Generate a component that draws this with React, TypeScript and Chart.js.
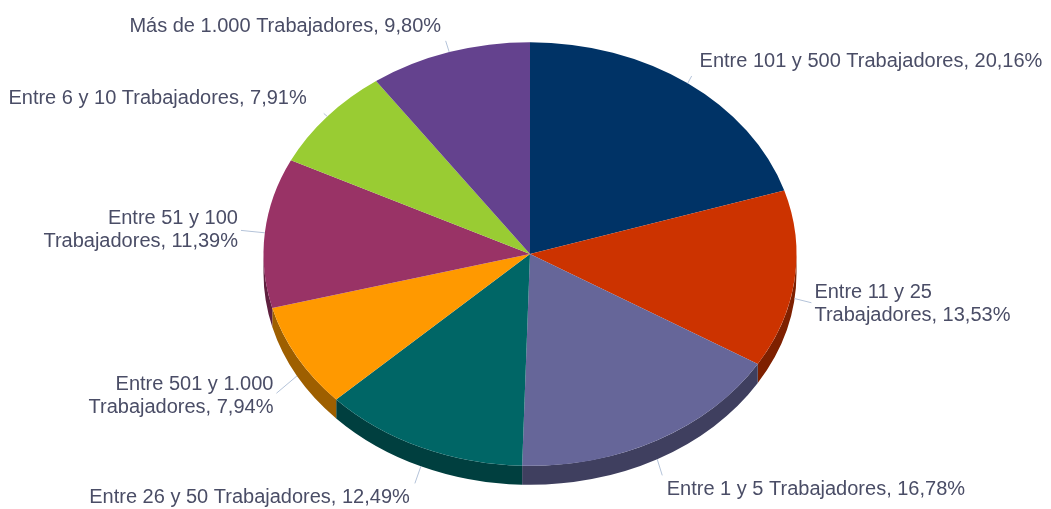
import React, { useEffect, useRef } from 'react';
import { Chart, registerables } from 'chart.js';

Chart.register(...registerables);

const categories: string[] = [
  'Entre 101 y 500 Trabajadores',
  'Entre 11 y 25 Trabajadores',
  'Entre 1 y 5 Trabajadores',
  'Entre 26 y 50 Trabajadores',
  'Entre 501 y 1.000 Trabajadores',
  'Entre 51 y 100 Trabajadores',
  'Entre 6 y 10 Trabajadores',
  'Más de 1.000 Trabajadores',
];
const values: number[] = [20.16, 13.53, 16.78, 12.49, 7.94, 11.39, 7.91, 9.8];
const colors: string[] = ['#003366', '#CC3300', '#666699', '#006666', '#FF9900', '#993366', '#99CC33', '#64428E'];

const W = 1051;
const H = 509;
const TILT = 0.795;
const DEPTH = 19;
const LABEL_DIST = 27;
const LABEL_DIST_RIGHT = 20;
const LOWER_EXTRA = 7;
const FONT = '20px "Liberation Sans", Arial, sans-serif';
const LINE_H = 23;
const TEXT_COLOR = '#4a4d66';
const CONNECTOR_COLOR = '#b4c3d9';

function shade(hex: string, f: number): string {
  const h = hex.replace('#', '');
  const r = Math.round(parseInt(h.slice(0, 2), 16) * f);
  const g = Math.round(parseInt(h.slice(2, 4), 16) * f);
  const b = Math.round(parseInt(h.slice(4, 6), 16) * f);
  return `rgb(${r},${g},${b})`;
}

function wrap(ctx: CanvasRenderingContext2D, text: string, maxW: number): string[] {
  const words = text.split(' ');
  const lines: string[] = [];
  let cur = '';
  for (const w of words) {
    const test = cur ? cur + ' ' + w : w;
    if (cur && ctx.measureText(test).width > maxW) {
      lines.push(cur);
      cur = w;
    } else {
      cur = test;
    }
  }
  if (cur) lines.push(cur);
  return lines;
}

const pie3d = {
  id: 'pie3d',
  beforeDatasetsDraw(chart: any) {
    const meta = chart.getDatasetMeta(0);
    const arcs = meta.data;
    if (!arcs.length) return;
    const ctx: CanvasRenderingContext2D = chart.ctx;
    const p0 = arcs[0].getProps(['x', 'y', 'outerRadius'], true);
    const cx = p0.x, cy = p0.y, r = p0.outerRadius;
    const ry = r * TILT;
    const bg = chart.data.datasets[0].backgroundColor as string[];
    arcs.forEach((arc: any, i: number) => {
      const { startAngle, endAngle } = arc.getProps(['startAngle', 'endAngle'], true);
      const a0 = Math.max(startAngle, 0);
      const a1 = Math.min(endAngle, Math.PI);
      if (a1 <= a0) return;
      ctx.save();
      ctx.beginPath();
      ctx.ellipse(cx, cy, r, ry, 0, a0, a1, false);
      ctx.ellipse(cx, cy + DEPTH, r, ry, 0, a1, a0, true);
      ctx.closePath();
      ctx.fillStyle = shade(bg[i], 0.62);
      ctx.fill();
      ctx.restore();
    });
    ctx.save();
    ctx.translate(cx, cy);
    ctx.scale(1, TILT);
    ctx.translate(-cx, -cy);
  },
  afterDatasetsDraw(chart: any) {
    const ctx: CanvasRenderingContext2D = chart.ctx;
    const meta = chart.getDatasetMeta(0);
    const arcs = meta.data;
    if (!arcs.length) return;
    ctx.restore();
    const p0 = arcs[0].getProps(['x', 'y', 'outerRadius'], true);
    const cx = p0.x, cy = p0.y, r = p0.outerRadius;
    const ry = r * TILT;
    const labels = chart.data.labels as string[];
    const data = chart.data.datasets[0].data as number[];
    ctx.save();
    ctx.font = FONT;
    arcs.forEach((arc: any, i: number) => {
      const { startAngle, endAngle } = arc.getProps(['startAngle', 'endAngle'], true);
      const mid = (startAngle + endAngle) / 2;
      const c = Math.cos(mid), s = Math.sin(mid);
      const dy = s > 0 ? DEPTH : 0;
      const extra = s > 0 ? LOWER_EXTRA * Math.min(1, s * 2) : 0;
      const right = c >= 0;
      const dx = right ? LABEL_DIST_RIGHT : LABEL_DIST;
      const E = { x: cx + r * c, y: cy + ry * s + dy };
      const A = { x: cx + (r + dx) * c, y: cy + (ry + LABEL_DIST) * s + dy + extra };
      const text = `${labels[i]}, ${data[i].toFixed(2).replace('.', ',')}%`;
      const avail = right ? chart.width - A.x - 2 : A.x - 2;
      const lines = wrap(ctx, text, avail);
      const h = lines.length * LINE_H;
      const top = A.y - h / 2;
      const bottom = A.y + h / 2;
      const pad = 3;
      let t: number;
      if (E.y > bottom + pad) t = (E.y - (bottom + pad)) / (E.y - A.y);
      else if (E.y < top - pad) t = (top - pad - E.y) / (A.y - E.y);
      else t = (Math.abs(A.x - E.x) - pad) / Math.abs(A.x - E.x);
      t = Math.max(0, Math.min(1, t));
      ctx.beginPath();
      ctx.moveTo(E.x, E.y);
      ctx.lineTo(E.x + (A.x - E.x) * t, E.y + (A.y - E.y) * t);
      ctx.strokeStyle = CONNECTOR_COLOR;
      ctx.lineWidth = 1;
      ctx.stroke();
      ctx.fillStyle = TEXT_COLOR;
      ctx.textAlign = right ? 'left' : 'right';
      ctx.textBaseline = 'middle';
      lines.forEach((ln, j) => {
        ctx.fillText(ln, A.x, top + LINE_H * (j + 0.5));
      });
    });
    ctx.restore();
  },
};

export default function App() {
  const ref = useRef<HTMLCanvasElement | null>(null);
  useEffect(() => {
    if (!ref.current) return;
    const chart = new Chart(ref.current, {
      type: 'pie',
      data: {
        labels: categories,
        datasets: [
          {
            data: values,
            backgroundColor: colors,
            borderWidth: 0,
            radius: 266.5,
            clip: false,
          } as any,
        ],
      },
      options: {
        responsive: false,
        animation: false,
        events: [],
        layout: { padding: { left: 9, right: 0, top: 0, bottom: 1 } },
        plugins: {
          legend: { display: false },
          tooltip: { enabled: false },
        },
      },
      plugins: [pie3d],
    });
    return () => chart.destroy();
  }, []);
  return (
    <div style={{ position: 'fixed', left: 0, top: 0, width: W, height: H, background: '#fff' }}>
      <canvas ref={ref} width={W} height={H} style={{ display: 'block' }} />
    </div>
  );
}
